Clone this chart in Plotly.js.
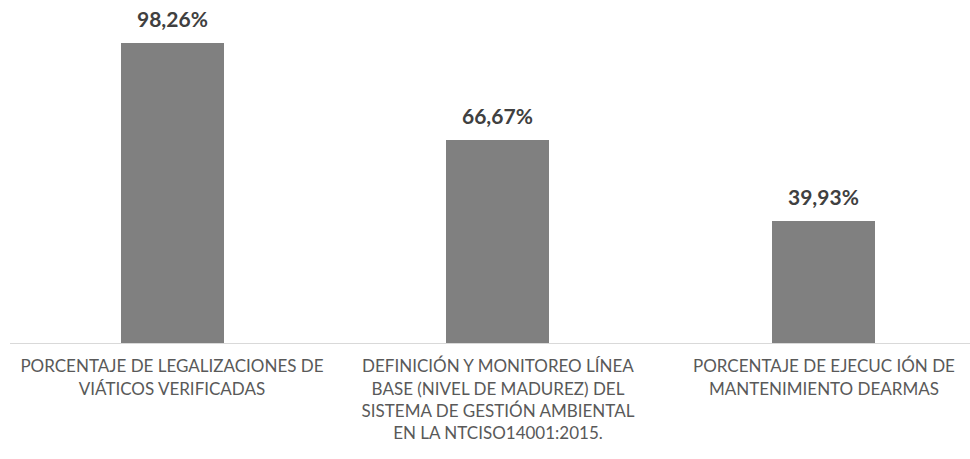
<!DOCTYPE html>
<html>
<head>
<meta charset="utf-8">
<script src="https://cdn.plot.ly/plotly-3.0.1.min.js"></script>
<style>html,body{margin:0;padding:0;background:#fff;}#chart{width:970px;height:459px;}</style>
</head>
<body>
<div id="chart"></div>
<script>
const categories = [
  "PORCENTAJE DE LEGALIZACIONES DE<br>VIÁTICOS VERIFICADAS",
  "DEFINICIÓN Y MONITOREO LÍNEA<br>BASE (NIVEL DE MADUREZ) DEL<br>SISTEMA DE GESTIÓN AMBIENTAL<br>EN LA NTCISO14001:2015.",
  "PORCENTAJE DE EJECUC IÓN DE<br>MANTENIMIENTO DEARMAS"
];
const values = [98.26, 66.67, 39.93];
const valueLabels = ["98,26%", "66,67%", "39,93%"];

const xs = categories.map((c, i) => i);

const trace = {
  type: "bar",
  x: xs,
  y: values,
  width: 0.316,
  marker: {color: "#808080"},
  hoverinfo: "skip"
};

const annotations = values.map((v, i) => ({
  x: i, y: v, xref: "x", yref: "y",
  text: "<b>" + valueLabels[i] + "</b>",
  showarrow: false,
  yanchor: "bottom",
  yshift: 10,
  font: {family: "Lato, 'Open Sans', sans-serif", size: 21, color: "#404040"}
}));

const layout = {
  width: 970, height: 459,
  margin: {l: 10, r: 0, t: 0, b: 116},
  paper_bgcolor: "#fff", plot_bgcolor: "#fff",
  showlegend: false,
  bargap: 0,
  xaxis: {
    range: [-0.497, 2.448],
    tickmode: "array",
    tickvals: xs,
    ticktext: categories,
    showgrid: false, zeroline: false,
    showline: true, linecolor: "#d9d9d9", linewidth: 1,
    ticks: "",
    ticklabelstandoff: 8,
    tickfont: {family: "Lato, 'Open Sans', sans-serif", size: 17, color: "#595959"}
  },
  yaxis: {
    range: [0, 112.5],
    visible: false,
    showgrid: false, zeroline: false
  },
  annotations: annotations
};

Plotly.newPlot("chart", [trace], layout, {displayModeBar: false, staticPlot: true});
</script>
</body>
</html>
